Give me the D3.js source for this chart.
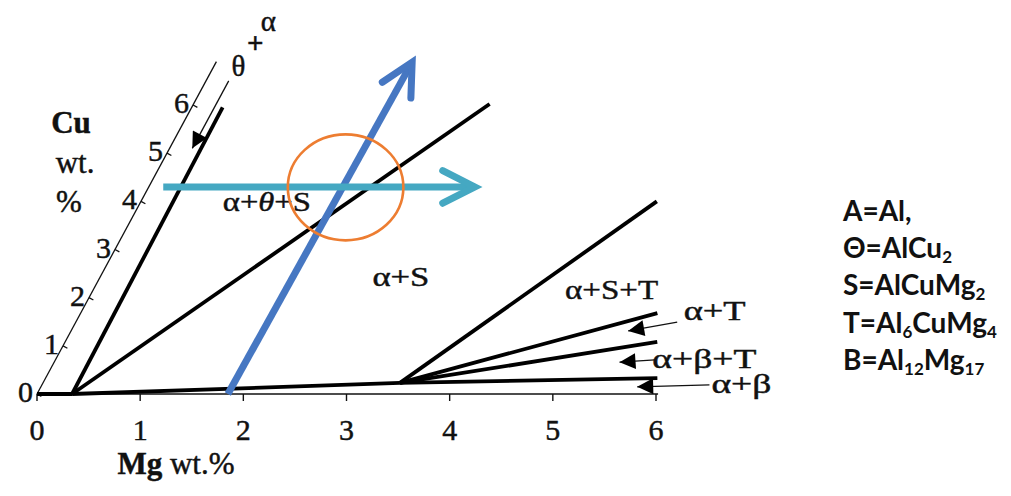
<!DOCTYPE html>
<html>
<head>
<meta charset="utf-8">
<script src="https://cdn.jsdelivr.net/npm/d3@7"></script>
<style>
  html, body { margin: 0; padding: 0; background: #fff; }
  svg { display: block; }
  .serif { font-family: "Liberation Serif", "DejaVu Serif", serif; fill: #111; stroke: #111; stroke-width: 0.45px; }
  .legend { font-family: Lato, "Open Sans", sans-serif; font-weight: 700; fill: #111; }
</style>
</head>
<body>
<svg id="chart" width="1011" height="496"></svg>
<script>
// ---------------- data ----------------
const mgTicks = [0, 1, 2, 3, 4, 5, 6];
const cuTicks = [0, 1, 2, 3, 4, 5, 6];
const cuAxisMax = 6.9;

// phase boundary lines: [startMg, startCu, endMg, endCu]
const boundaryLines = [
  [0, 0, 0.34, 0],
  [0.34, 0, 0.30, 5.95],
  [0.34, 0, 2.87, 6.02],
  [0.34, 0, 3.46, 0.23],
  [3.46, 0.23, 5.00, 4.00],
  [3.46, 0.23, 5.59, 1.68],
  [3.46, 0.23, 5.74, 1.08],
  [3.46, 0.23, 5.93, 0.33]
];

// leader arrows (from label towards field): [fromMg, fromCu, toMg, toCu]
const leaderArrows = [
  [0.22, 6.50, 0.22, 5.10],
  [5.83, 1.49, 5.40, 1.31],
  [5.81, 0.71, 5.48, 0.66],
  [6.47, 0.19, 5.78, 0.15]
];

// phase field labels (w = printed width of the label)
const phaseLabels = [
  { parts: [["α+", false], ["θ", true], ["+S", false]], mg: 1.22, cu: 4.00, w: 88 },
  { parts: [["α+S", false]], mg: 2.91, cu: 2.45, w: 57 },
  { parts: [["α+S+T", false]], mg: 5.02, cu: 2.18, w: 93 },
  { parts: [["α+T", false]], mg: 6.13, cu: 1.74, w: 62 },
  { parts: [["α+β+T", false]], mg: 6.28, cu: 0.75, w: 104 },
  { parts: [["α+β", false]], mg: 6.77, cu: 0.23, w: 60 }
];
// the stacked "θ + α" label at the top of the Cu axis
const topLabel = [
  { t: "θ", mg: 0.24, cu: 6.80 },
  { t: "+", mg: 0.28, cu: 7.28 },
  { t: "α", mg: 0.29, cu: 7.75 }
];

// highlighted paths (composition routes) and the circled region
const routeArrows = [
  { from: [1.85, 0.0], to: [1.90, 6.89], color: "#4677c2" },
  { from: [0.14, 4.30], to: [3.16, 4.30], color: "#45a8c2" }
];
const circledRegion = { mg: 1.91, cu: 4.29, rMg: 0.56, rCu: 1.1 };

// legend lines: [text, subscript] pairs
const legendRows = [
  [["A=Al,", ""]],
  [["Θ=AlCu", ""], ["2", "sub"]],
  [["S=AlCuMg", ""], ["2", "sub"]],
  [["T=Al", ""], ["6", "sub"], ["CuMg", ""], ["4", "sub"]],
  [["B=Al", ""], ["12", "sub"], ["Mg", ""], ["17", "sub"]]
];

// ---------------- scales (oblique Mg–Cu axes) ----------------
const svg = d3.select("#chart");
const X = d3.scaleLinear().domain([0, 6]).range([37, 656]);   // Mg along horizontal
const CY = d3.scaleLinear().domain([0, 6]).range([394, 105]); // Cu vertical component
const CX = d3.scaleLinear().domain([0, 6]).range([0, 156]);   // Cu horizontal shear
const P = (mg, cu) => [X(mg) + CX(cu), CY(cu)];

svg.append("rect").attr("width", 1011).attr("height", 496).attr("fill", "#fff");

// markers
const defs = svg.append("defs");
defs.append("marker")
  .attr("id", "tri").attr("viewBox", "0 0 10 10")
  .attr("refX", 10).attr("refY", 5)
  .attr("markerWidth", 21).attr("markerHeight", 16)
  .attr("markerUnits", "userSpaceOnUse")
  .attr("orient", "auto")
  .append("path").attr("d", "M0,0 L10,5 L0,10 Z").attr("fill", "#000");

// ---------------- axes ----------------
const axisG = svg.append("g");
const line = d3.line();
axisG.append("path").attr("d", line([P(0, 0), P(6.02, 0)]))
  .attr("stroke", "#111").attr("stroke-width", 1.5).attr("fill", "none");
axisG.append("path").attr("d", line([P(0, 0), P(0, cuAxisMax)]))
  .attr("stroke", "#111").attr("stroke-width", 1.3).attr("fill", "none");

// Mg ticks
mgTicks.forEach(v => {
  const [x, y] = P(v, 0);
  axisG.append("line").attr("x1", x).attr("x2", x).attr("y1", y).attr("y2", y + 7)
    .attr("stroke", "#111").attr("stroke-width", 1.4);
  axisG.append("text").attr("class", "serif").attr("x", x).attr("y", y + 46)
    .attr("text-anchor", "middle").attr("font-size", 30).text(v);
});
// Cu ticks
const len = Math.hypot(CX(1) - CX(0), CY(1) - CY(0));
const ux = (CX(1) - CX(0)) / len, uy = (CY(1) - CY(0)) / len; // along axis
cuTicks.forEach(v => {
  const [x, y] = P(0, v);
  axisG.append("line").attr("x1", x).attr("y1", y)
    .attr("x2", x - uy * 5).attr("y2", y + ux * 5)
    .attr("stroke", "#111").attr("stroke-width", 1.3);
  axisG.append("text").attr("class", "serif").attr("x", x - 4).attr("y", y + 8)
    .attr("text-anchor", "end").attr("font-size", 30).text(v);
});

// axis titles
const mgT = svg.append("text").attr("class", "serif").attr("x", 176).attr("y", 474)
  .attr("text-anchor", "middle").attr("font-size", 31);
mgT.append("tspan").attr("font-weight", 700).text("Mg");
mgT.append("tspan").text(" wt.%");
svg.append("text").attr("class", "serif").attr("x", 71).attr("y", 133)
  .attr("text-anchor", "middle").attr("font-size", 31).attr("font-weight", 700).text("Cu");
svg.append("text").attr("class", "serif").attr("x", 75).attr("y", 173)
  .attr("text-anchor", "middle").attr("font-size", 31).text("wt.");
svg.append("text").attr("class", "serif").attr("x", 69).attr("y", 212)
  .attr("text-anchor", "middle").attr("font-size", 31).text("%");

// ---------------- phase boundaries ----------------
svg.append("g").selectAll("path").data(boundaryLines).join("path")
  .attr("d", d => line([P(d[0], d[1]), P(d[2], d[3])]))
  .attr("stroke", "#000").attr("stroke-width", 3.8).attr("fill", "none")
  .attr("stroke-linecap", "butt");

// leader arrows
svg.append("g").selectAll("path").data(leaderArrows).join("path")
  .attr("d", d => line([P(d[0], d[1]), P(d[2], d[3])]))
  .attr("stroke", "#111").attr("stroke-width", 1.3).attr("fill", "none")
  .attr("marker-end", "url(#tri)");

// ---------------- labels ----------------
const lbl = svg.append("g").selectAll("text").data(phaseLabels).join("text")
  .attr("class", "serif").attr("font-size", 28)
  .attr("text-anchor", "middle").attr("dominant-baseline", "central")
  .attr("x", d => P(d.mg, d.cu)[0]).attr("y", d => P(d.mg, d.cu)[1])
  .attr("textLength", d => d.w).attr("lengthAdjust", "spacingAndGlyphs");
lbl.each(function(d) {
  const t = d3.select(this);
  d.parts.forEach(p => t.append("tspan").attr("font-style", p[1] ? "italic" : "normal").text(p[0]));
});
svg.append("g").selectAll("text").data(topLabel).join("text")
  .attr("class", "serif").attr("font-size", 29)
  .attr("text-anchor", "middle").attr("dominant-baseline", "central")
  .attr("font-weight", d => d.t === "+" ? 700 : 400)
  .attr("x", d => P(d.mg, d.cu)[0]).attr("y", d => P(d.mg, d.cu)[1])
  .text(d => d.t);

// ---------------- route arrows ----------------
function chevron(a, b) {
  const dx = b[0] - a[0], dy = b[1] - a[1], L = Math.hypot(dx, dy);
  const bx = -dx / L, by = -dy / L, ang = 27 * Math.PI / 180, arm = 36;
  const r = (x, y, t) => [x * Math.cos(t) - y * Math.sin(t), x * Math.sin(t) + y * Math.cos(t)];
  const a1 = r(bx, by, ang), a2 = r(bx, by, -ang);
  return [[b[0] + a1[0] * arm, b[1] + a1[1] * arm], b, [b[0] + a2[0] * arm, b[1] + a2[1] * arm]];
}
const routes = svg.append("g");
routeArrows.forEach(r => {
  const a = P(r.from[0], r.from[1]), b = P(r.to[0], r.to[1]);
  const dx = b[0] - a[0], dy = b[1] - a[1], L = Math.hypot(dx, dy);
  const bEnd = [b[0] - dx / L * 2, b[1] - dy / L * 2];
  routes.append("path").attr("d", line([a, bEnd]))
    .attr("stroke", r.color).attr("stroke-width", 7).attr("fill", "none");
  routes.append("path").attr("d", line(chevron(a, b)))
    .attr("stroke", r.color).attr("stroke-width", 7).attr("fill", "none")
    .attr("stroke-linecap", "round").attr("stroke-linejoin", "miter");
});

// circled region
const cc = P(circledRegion.mg, circledRegion.cu);
svg.append("ellipse").attr("cx", cc[0]).attr("cy", cc[1])
  .attr("rx", X(circledRegion.rMg) - X(0))
  .attr("ry", CY(0) - CY(circledRegion.rCu))
  .attr("fill", "none").attr("stroke", "#ed7d31").attr("stroke-width", 2.6);

// ---------------- legend ----------------
const lg = svg.append("g");
legendRows.forEach((row, i) => {
  const t = lg.append("text").attr("class", "legend").attr("x", 843).attr("y", 221 + i * 37.2)
    .attr("font-size", 28);
  row.forEach(p => {
    const s = t.append("tspan").text(p[0]);
    if (p[1] === "sub") s.attr("font-size", 17).attr("baseline-shift", "-30%");
  });
});
</script>
</body>
</html>
